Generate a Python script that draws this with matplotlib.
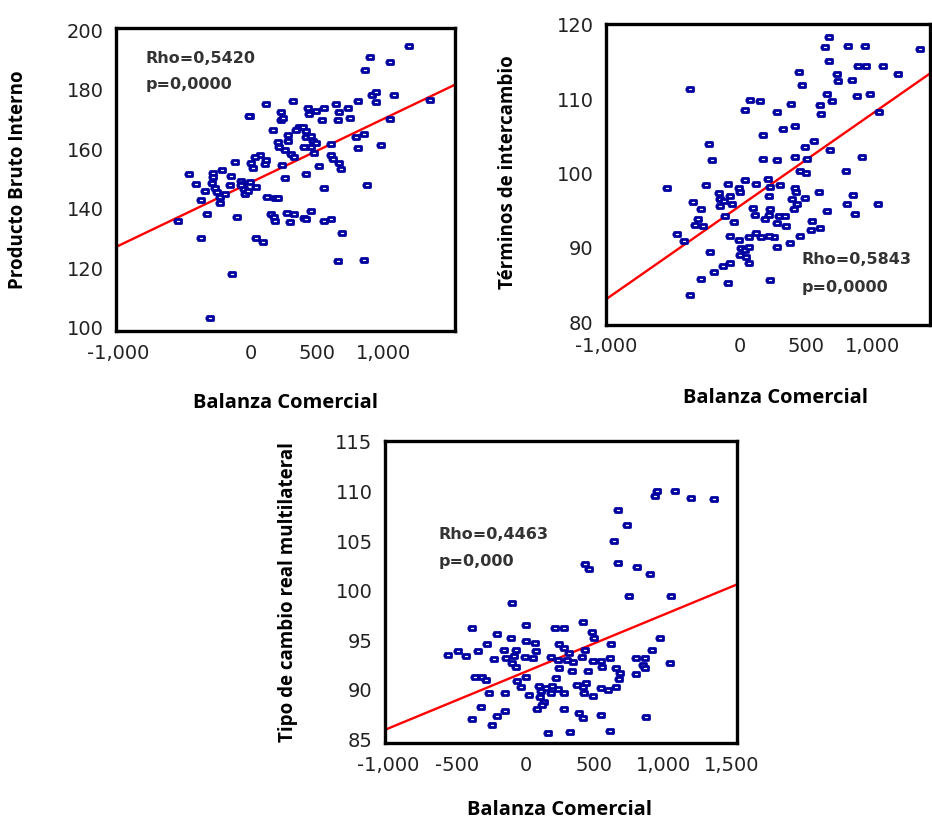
import numpy as np
import matplotlib
matplotlib.use("Agg")
import matplotlib.pyplot as plt
from matplotlib.path import Path
from matplotlib.ticker import FuncFormatter, FixedLocator

# ---------------- Data ----------------
# Panel 1: Balanza Comercial vs Producto Bruto Interno
bc_pbi = [1197, 900, 1050, 865, 1355, 1080, 917, 947, 947, 812, 735, 642, 667, 655, 747,
          550, 492, 430, 437, 535, 322, 112, -7, 230, 230, 242, 167, 367, 392, 342, 417,
          280, 280, 205, 217, 255, 305, 330, 417, 455, 467, 492, 455, 405, 480, 605, 605,
          617, 667, 680, 517, 792, 855, 812, 985, 1050, 880, 550, 417, 255, 237, 105, 117,
          67, 30, 5, 17, -12, -120, -145, -220, -287, -282, -295, -270, -257, -232, -232,
          -345, -375, -415, -465, -157, -75, -57, -50, -45, -20, 42, -7, -70, -195, 125,
          180, 205, 150, 175, 185, 275, 330, 300, 405, 455, 417, 555, 605, 692, 655, 855,
          -545, -332, -100, -372, 42, 92, -140, -307]
pbi = [194.7, 191.0, 189.3, 186.7, 176.7, 178.3, 178.3, 179.1, 175.8, 176.3, 174.0, 175.2,
       172.4, 170.0, 170.4, 174.0, 172.9, 173.9, 171.9, 169.9, 176.3, 175.2, 171.3, 172.5,
       169.7, 170.6, 166.3, 167.4, 167.6, 166.3, 166.1, 164.7, 162.9, 162.4, 160.7, 159.8,
       158.4, 157.5, 164.0, 164.6, 162.9, 162.0, 160.7, 160.7, 158.7, 161.8, 158.2, 156.7,
       155.3, 153.4, 154.5, 164.0, 165.2, 160.3, 161.5, 170.2, 148.1, 147.0, 151.5, 150.3,
       154.7, 155.1, 156.4, 157.9, 157.3, 155.4, 153.6, 171.3, 155.6, 150.9, 153.1, 152.0,
       150.6, 148.5, 147.0, 145.5, 143.8, 141.9, 145.8, 142.9, 148.2, 151.8, 147.8, 149.4,
       148.3, 146.6, 144.9, 146.0, 147.2, 148.9, 147.8, 144.9, 143.8, 143.5, 143.5, 138.2,
       137.1, 136.0, 138.5, 138.2, 135.4, 136.9, 139.3, 136.6, 136.0, 136.6, 131.8, 122.2,
       122.7, 136.0, 138.2, 137.1, 130.1, 130.1, 128.7, 118.0, 103.1]

# Panel 2: Balanza Comercial vs Terminos de intercambio
bc_ti = [667, 637, 812, 942, 1355, 667, 887, 947, 1075, 1192, 730, 742, 847, 655, 692, 880,
         980, 600, 612, 1047, 442, 467, 387, 412, 322, 280, 80, 150, 42, 175, 555, 492, 675,
         175, 280, 412, 505, 917, 800, 455, 500, -232, -212, -377, -550, -257, -87, -7, 5,
         42, 125, 212, 230, 300, 217, 417, 425, 592, 392, 430, 492, 405, 850, 805, 867,
         1042, 655, -157, -145, -120, -150, -70, -57, -352, -290, -312, -337, -277, -107,
         -45, -470, -420, -225, 100, 117, 230, 217, 192, 292, 342, 280, 350, 542, 535, 605,
         455, 375, 280, 255, 217, 160, 122, 67, -7, -70, 10, 37, 0, 50, 67, -75, -127, -195,
         -290, -90, -377, 230, 72]
ti = [118.3, 117.0, 117.2, 117.2, 116.8, 115.1, 114.5, 114.5, 114.5, 113.4, 113.4, 112.4,
      112.6, 110.7, 109.7, 110.4, 110.7, 109.2, 108.0, 108.3, 113.6, 111.9, 109.4, 106.4,
      106.0, 108.3, 109.9, 109.7, 108.5, 105.2, 104.3, 103.5, 103.1, 102.0, 101.8, 102.2,
      102.0, 102.2, 100.3, 100.3, 100.0, 103.9, 101.8, 111.3, 98.0, 98.4, 98.6, 98.0, 97.5,
      99.1, 98.6, 99.2, 98.2, 98.4, 96.9, 98.0, 97.5, 97.5, 96.5, 95.9, 96.7, 95.2, 97.1,
      95.9, 94.6, 95.9, 95.0, 97.4, 96.6, 96.3, 95.6, 96.9, 95.9, 96.1, 95.2, 93.9, 93.1,
      92.9, 94.2, 93.5, 91.8, 90.9, 89.4, 95.4, 94.4, 95.2, 94.4, 93.9, 94.3, 94.3, 93.3,
      92.9, 93.6, 92.4, 92.7, 91.6, 90.6, 90.1, 91.4, 91.6, 91.4, 92.0, 91.4, 91.1, 91.6,
      89.9, 89.7, 89.0, 88.7, 88.0, 88.0, 87.6, 86.7, 85.8, 85.2, 83.7, 85.7, 90.1]

# Panel 3: Balanza Comercial vs Tipo de cambio real multilateral
bc_tcr = [956, 939, 1085, 1202, 1366, 671, 739, 641, 671, 434, 463, 812, 902, 749, 1056,
          -102, -390, 0, 212, 280, 415, 483, 495, -207, -105, -280, 622, 975, 244, 5, 66,
          -561, -488, -434, -346, -232, -159, -73, -146, -98, -73, -85, -5, 54, 73, 183, 232,
          280, 317, 300, 341, 407, 431, 488, 549, 610, 244, 337, 451, 556, 659, 683, 678,
          659, 598, 549, 805, 866, 854, 866, 805, 915, 1046, -366, -317, -285, -268, -151,
          -61, -37, 5, 24, 98, 110, 146, 195, 220, 232, 183, 280, 105, 134, 122, 85, 280,
          373, 415, 439, 427, 488, -322, -151, -207, -390, -244, 390, 415, 549, 878, 166,
          322, 610]
tcr = [110.1, 109.5, 110.1, 109.3, 109.2, 108.1, 106.6, 105.0, 102.8, 102.7, 102.2, 102.4,
       101.7, 99.4, 99.4, 98.7, 96.2, 96.5, 96.2, 96.2, 96.8, 95.8, 95.2, 95.6, 95.2, 94.6,
       94.6, 95.2, 94.6, 94.9, 94.7, 93.5, 93.9, 93.4, 93.9, 93.1, 94.0, 94.0, 93.2, 92.7,
       92.3, 93.4, 93.3, 93.2, 93.9, 93.3, 93.0, 94.2, 93.7, 93.0, 92.8, 93.3, 94.0, 92.9,
       92.9, 93.2, 92.2, 91.9, 91.9, 92.3, 92.2, 91.7, 91.1, 90.3, 90.0, 90.2, 93.2, 93.2,
       92.5, 92.2, 91.6, 94.0, 92.7, 91.3, 91.3, 91.0, 89.7, 89.7, 90.9, 90.3, 91.3, 89.4,
       90.4, 89.9, 90.2, 90.4, 91.2, 90.1, 89.6, 89.6, 89.2, 88.7, 88.4, 88.0, 88.0, 90.5,
       90.3, 90.7, 89.6, 89.3, 88.2, 87.8, 87.3, 87.0, 86.4, 87.6, 87.1, 87.4, 87.2, 85.6,
       85.7, 85.8]

# Regression lines (intercept at 0, slope per unit)
fit_pbi = (148.8, 0.02138)
fit_ti = (95.6, 0.01248)
fit_tcr = (91.8, 0.00574)

rho_text = ["Rho=0,5420", "Rho=0,5843", "Rho=0,4463"]
p_text = ["p=0,0000", "p=0,0000", "p=0,000"]
y_labels = ["Producto Bruto Interno", "Términos de intercambio", "Tipo de cambio real multilateral"]
x_label = "Balanza Comercial"

xticks_top = [-1000, 0, 500, 1000]
xticks_bottom = [-1000, -500, 0, 500, 1000, 1500]
yticks_pbi = [100, 120, 140, 160, 180, 200]
yticks_ti = [80, 90, 100, 110, 120]
yticks_tcr = [85, 90, 95, 100, 105, 110, 115]

# ---------------- Styling ----------------
DOT = "#0000A0"
RED = "#FF0000"
LABEL_FONT = ["Open Sans", "DejaVu Sans"]
verts = [(-1.0, -0.75), (1.0, -0.75), (1.0, 0.75), (-1.0, 0.75), (-1.0, -0.75),
         (-1.0, 0.0), (-1.45, 0.0)]
codes = [Path.MOVETO, Path.LINETO, Path.LINETO, Path.LINETO, Path.CLOSEPOLY,
         Path.MOVETO, Path.LINETO]
marker = Path(verts, codes)

fig = plt.figure(figsize=(9.32, 8.24), dpi=100)
fmt = FuncFormatter(lambda v, p: f"{v:,.0f}")

panels = [
    dict(rect=[0.1245, 0.5983, 0.3637, 0.3677], x=bc_pbi, y=pbi, fit=fit_pbi,
         xlim=(-1015, 1540), ylim=(98.8, 200.8), xt=xticks_top, yt=yticks_pbi,
         txt=(0.086, 0.90, 0.815), ylab=(-0.289, 0.5), xlab=(0.5, -0.238)),
    dict(rect=[0.6502, 0.6056, 0.3477, 0.3653], x=bc_ti, y=ti, fit=fit_ti,
         xlim=(-1005, 1430), ylim=(79.6, 120.1), xt=xticks_top, yt=yticks_ti,
         txt=(0.603, 0.216, 0.126), ylab=(-0.302, 0.508), xlab=(0.522, -0.243)),
    dict(rect=[0.4131, 0.0983, 0.3777, 0.3665], x=bc_tcr, y=tcr, fit=fit_tcr,
         xlim=(-1022, 1536), ylim=(84.6, 115.1), xt=xticks_bottom, yt=yticks_tcr,
         txt=(0.153, 0.689, 0.60), ylab=(-0.276, 0.5), xlab=(0.497, -0.222)),
]

for i, pnl in enumerate(panels):
    ax = fig.add_axes(pnl["rect"])
    ax.set_xlim(*pnl["xlim"])
    ax.set_ylim(*pnl["ylim"])
    xs = np.array(ax.get_xlim())
    a, b = pnl["fit"]
    ax.plot(xs, a + b * xs, color=RED, lw=1.7, zorder=2)
    ax.plot(pnl["x"], pnl["y"], linestyle="none", marker=marker, markersize=6.5,
            markerfacecolor="white", markeredgecolor=DOT, markeredgewidth=2.0, zorder=3)
    ax.xaxis.set_major_locator(FixedLocator(pnl["xt"]))
    ax.yaxis.set_major_locator(FixedLocator(pnl["yt"]))
    ax.xaxis.set_major_formatter(fmt)
    ax.tick_params(length=0, labelsize=14, pad=9, colors="#222222")
    for s in ax.spines.values():
        s.set_linewidth(2.4)
        s.set_color("black")
    tx, ty1, ty2 = pnl["txt"]
    ax.text(tx, ty1, rho_text[i], transform=ax.transAxes, ha="left", va="center",
            fontsize=11.5, fontweight="bold", family="DejaVu Sans", color="#333333")
    ax.text(tx, ty2, p_text[i], transform=ax.transAxes, ha="left", va="center",
            fontsize=11.5, fontweight="bold", family="DejaVu Sans", color="#333333")
    ax.set_ylabel(y_labels[i], fontsize=13.5, fontweight="bold", family=LABEL_FONT)
    ax.set_xlabel(x_label, fontsize=14.5, fontweight="bold", family=LABEL_FONT)
    ax.yaxis.label.set_va("center")
    ax.xaxis.label.set_va("center")
    ax.yaxis.set_label_coords(*pnl["ylab"])
    ax.xaxis.set_label_coords(*pnl["xlab"])

fig.savefig("out.png", dpi=100)
